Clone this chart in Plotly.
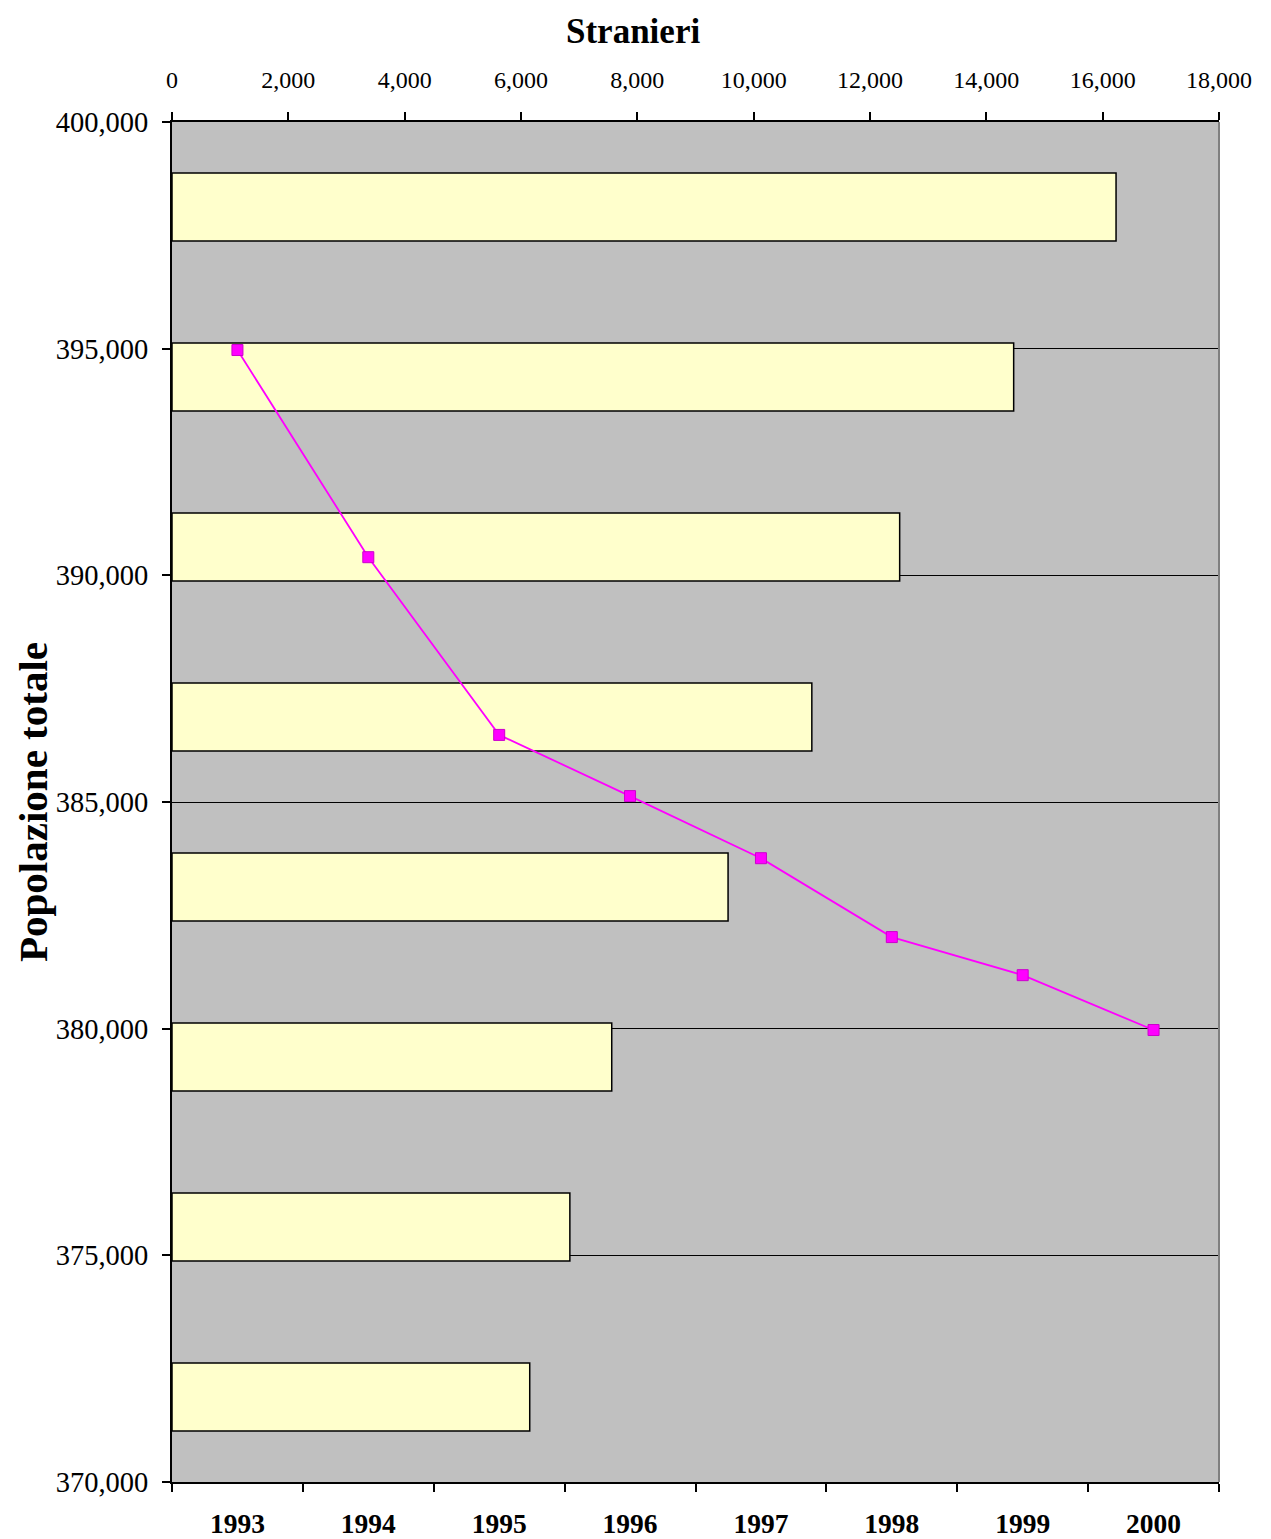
import plotly.graph_objects as go

years = ["1993", "1994", "1995", "1996", "1997", "1998", "1999", "2000"]
stranieri = [6150, 6840, 7560, 9560, 11000, 12510, 14470, 16230]
popolazione = [394970, 390400, 386480, 385130, 383760, 382020, 381180, 379970]

FONT = "Liberation Serif"

fig = go.Figure()
fig.add_trace(go.Bar(
    x=stranieri, y=years, orientation="h", xaxis="x", yaxis="y",
    width=0.4,
    marker=dict(color="#FFFFCC", line=dict(color="black", width=1.5)),
    showlegend=False,
))
fig.add_trace(go.Scatter(
    x=years, y=popolazione, xaxis="x2", yaxis="y2",
    mode="lines+markers",
    line=dict(color="#FF00FF", width=1.8),
    marker=dict(symbol="square", size=11, color="#FF00FF",
                line=dict(color="#CC00CC", width=1)),
    showlegend=False,
))

fig.update_layout(
    width=1271, height=1539,
    margin=dict(l=164, r=60, t=114, b=65, autoexpand=False),
    paper_bgcolor="white", plot_bgcolor="#C0C0C0",
    font=dict(family=FONT, color="black", size=26),
    bargap=0.6,
    xaxis=dict(
        side="top", range=[0, 18000], dtick=2000, tickformat=",",
        ticks="outside", ticklen=8, tickwidth=2, tickcolor="black",
        showline=True, linecolor="black", linewidth=2,
        showgrid=False, zeroline=False,
        tickfont=dict(family=FONT, size=24),
        ticklabelstandoff=14,
        automargin=False,
    ),
    yaxis=dict(
        type="category", categoryorder="array", categoryarray=years,
        range=[-0.5, 7.5], showticklabels=False, showgrid=False,
        showline=False, zeroline=False, ticks="",
        automargin=False,
    ),
    xaxis2=dict(
        overlaying="x", side="bottom", type="category",
        categoryorder="array", categoryarray=years,
        range=[-0.5, 7.5], tickson="boundaries",
        ticks="outside", ticklen=8, tickwidth=2, tickcolor="black",
        showline=True, linecolor="black", linewidth=2,
        showgrid=False, zeroline=False,
        tickfont=dict(family=FONT, size=27.5, weight="bold"),
        ticklabelstandoff=16,
        automargin=False,
    ),
    yaxis2=dict(
        overlaying="y", side="left", range=[370000, 400000], dtick=5000,
        tickformat=",", ticks="outside", ticklen=8, tickwidth=2,
        tickcolor="black", showline=True, linecolor="black", linewidth=2,
        showgrid=True, gridcolor="black", gridwidth=1, zeroline=False,
        tickfont=dict(family=FONT, size=28.5),
        ticklabelstandoff=8,
        automargin=False,
    ),
    annotations=[
        dict(text="<b>Stranieri</b>", xref="paper", yref="paper",
             x=(632 - 171) / 1047, y=1, yshift=91,
             xanchor="center", yanchor="middle", showarrow=False,
             font=dict(family=FONT, size=35)),
        dict(text="<b>Popolazione totale</b>", xref="paper", yref="paper",
             x=(32 - 171) / 1047, y=0.5, textangle=-90,
             xanchor="center", yanchor="middle", showarrow=False,
             font=dict(family=FONT, size=41)),
    ],
    shapes=[
        dict(type="line", xref="paper", yref="paper", x0=1, x1=1, y0=0, y1=1,
             line=dict(color="#808080", width=2)),
    ],
)

fig.write_html("out.html")
